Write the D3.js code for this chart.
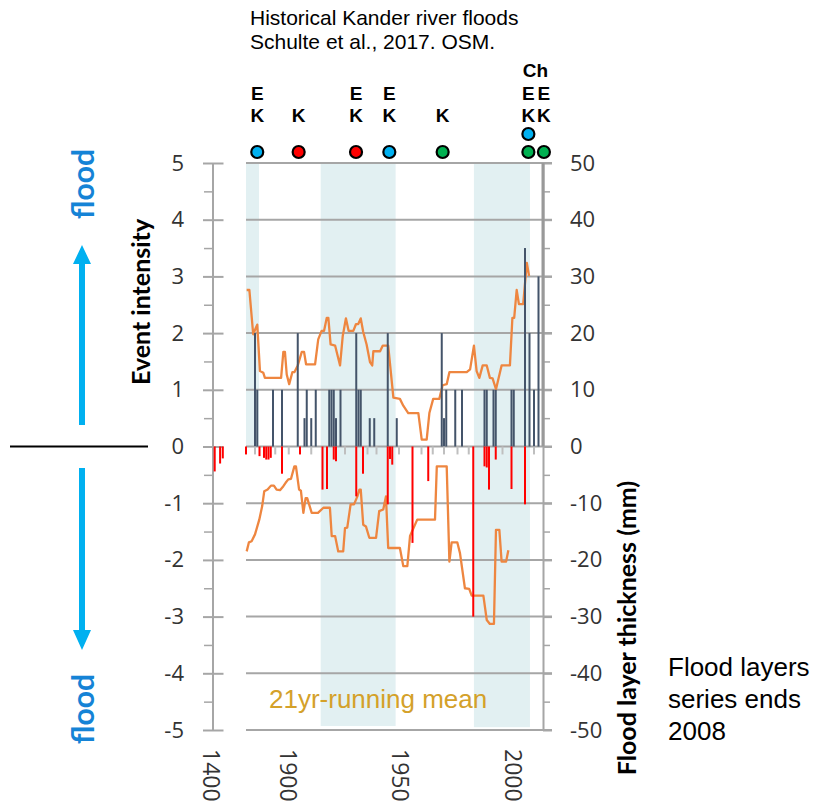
<!DOCTYPE html>
<html><head><meta charset="utf-8">
<script src="https://cdn.jsdelivr.net/npm/d3@7"></script>
<style>body{margin:0;background:#fff}svg{display:block}</style>
</head><body>
<svg id="c" width="817" height="807"></svg>
<script>
// ---------------- DATA ----------------
// Event intensity (left axis) – historical flood events
const intensityYears  = [1885,1886,1893,1897,1904,1907,1908,1910,1912,1918,1919,1920,1921,1923,1930,1931,1932,1936,1938,1944,1948,1968,1969,1970,1974,1977,1987,1988,1991,1992,1999,2000,2005,2007,2009,2011];
const intensityValues = [2,1,1,1,2,0.5,1,0.5,1,1,1,1,0.5,1,2,1,1,0.5,0.5,2,0.5,2,0.5,1,1,1,1,1,1,1,1,1,3.5,2,1,3];

// Flood layer thickness (mm, right axis, drawn downwards)
const layerYears  = [1881,1887,1889,1890,1891,1892,1897,1905,1915,1917,1920,1921,1930,1933,1944,1945,1946,1955,1962,1982,1987,1988,1989,1992,1999,2005];
const layerValues = [-1.4,-1.7,-2.0,-2.3,-2.3,-2.0,-4.8,-1.4,-7.6,-7.5,-2.3,-2.6,-8.8,-4.8,-10.2,-2.2,-3.2,-17.0,-6.1,-30,-3.5,-3.7,-7.6,-2.3,-7.5,-10.2];
// thin layers (grey)
const thinYears  = [1885,1894,1900,1910,1925,1935,1939,1949,1959,1964,1969,1975,1980,1995,2009];
const thinValues = [-1.4,-1.4,-1.4,-1.4,-1.4,-1.4,-1.4,-1.4,-1.4,-1.4,-1.4,-1.4,-1.4,-1.4,-1.4];
// early segment (around 1400)
const earlyYears  = [1401,1403,1404];
const earlyValues = [-4.4,-3.0,-2.1];

// 21yr running mean of event intensity
const meanUpYears  = [1881.3,1882.5,1884.2,1886.0,1887.2,1888.7,1889.4,1896.6,1897.6,1898.3,1899.1,1900.2,1901.6,1902.5,1904.0,1905.8,1906.8,1907.7,1911.7,1913.1,1914.6,1915.7,1916.9,1917.6,1918.6,1920.6,1922.8,1924.0,1925.4,1926.6,1928.7,1929.9,1930.9,1932.0,1933.1,1934.6,1936.1,1937.1,1937.6,1940.6,1941.8,1943.5,1944.2,1946.5,1949.4,1950.9,1953.1,1957.6,1959.1,1961.3,1962.5,1964.2,1966.9,1968.4,1970.2,1971.4,1979.1,1980.6,1982.3,1983.5,1984.7,1986.2,1988.0,1989.4,1990.6,1992.1,1994.6,1998.3,1999.4,2000.2,2001.3,2002.3,2004.2,2005.8,2006.8];
const meanUpValues = [2.76,2.76,1.98,2.15,1.33,1.30,1.21,1.21,1.67,1.67,1.27,1.10,1.31,1.31,1.43,1.67,1.67,1.45,1.45,1.89,2.04,2.04,2.27,2.27,1.80,1.78,1.43,1.95,2.26,2.04,2.04,2.16,2.16,2.26,2.02,1.80,1.49,1.43,1.68,1.68,1.78,1.78,1.78,0.86,0.84,0.72,0.59,0.59,0.12,0.12,0.59,0.84,0.84,1.08,1.10,1.31,1.31,1.36,1.78,1.33,1.21,1.43,1.43,1.21,1.20,1.01,1.43,1.43,2.27,2.27,2.76,2.51,2.51,3.24,3.01];

// 21yr running mean of flood layer thickness (mm)
const meanDownYears  = [1881.3,1882.3,1883.5,1885.0,1886.9,1888.2,1889.1,1890.6,1892.1,1893.4,1894.6,1896.1,1897.6,1898.6,1899.8,1901.0,1902.5,1903.2,1904.6,1905.4,1906.5,1907.5,1908.2,1910.2,1913.0,1915.4,1918.3,1919.1,1920.6,1922.0,1924.2,1925.0,1926.0,1927.5,1929.0,1930.5,1931.4,1932.0,1933.1,1934.3,1935.8,1938.8,1940.2,1942.0,1943.2,1944.2,1949.4,1950.9,1952.7,1953.9,1957.1,1965.0,1965.8,1970.2,1971.4,1972.4,1974.9,1976.1,1978.3,1980.2,1981.3,1986.5,1988.0,1989.4,1991.2,1992.1,1993.6,1994.6,1996.6,1997.6];
const meanDownValues = [-18.5,-16.9,-16.7,-15.5,-12.9,-10.5,-7.9,-7.6,-6.9,-6.9,-7.6,-7.7,-7.0,-6.4,-5.8,-5.7,-3.5,-3.5,-7.6,-7.8,-11.7,-9.1,-9.1,-11.7,-11.7,-10.8,-10.8,-15.8,-15.8,-18.5,-18.5,-14.4,-14.3,-10.2,-10.2,-8.8,-7.6,-7.6,-13.8,-14.1,-16.1,-16.1,-11.4,-11.1,-8.8,-17.9,-17.9,-21.1,-21.1,-15.8,-12.9,-12.9,-3.5,-3.5,-20.3,-16.9,-16.9,-18.8,-25.0,-25.1,-26.3,-26.3,-30.6,-31.3,-31.3,-14.7,-14.7,-20.3,-20.3,-18.3];

// shaded periods
const bandStart = [1881, 1914.2, 1982.3];
const bandEnd   = [1886.8, 1947.5, 2007.2];
const bandLow   = [0, -4.93, -4.95];

// event markers on top
const dotYears  = [1886, 1904.4, 1929.9, 1944.7, 1968.4, 2006.5, 2006.5, 2013.4];
const dotRows   = [0, 0, 0, 0, 0, 0, 1, 0];
const dotSource = ["A", "B", "B", "A", "C", "C", "A", "C"];
const labelTexts = ["E","K","K","E","K","E","K","K","Ch","E","K","E","K"];
const labelYears = [1886,1886,1904.4,1929.9,1929.9,1944.7,1944.7,1968.4,2009.6,2006.5,2006.5,2013.4,2013.4];
const labelRows  = [1,0,0,1,0,1,0,0,2,1,0,1,0];

// axis ticks
const leftTicks  = [-5,-4,-3,-2,-1,0,1,2,3,4,5];
const rightTicks = [-50,-40,-30,-20,-10,0,10,20,30,40,50];
const xTickMain  = [1900, 1950, 2000];
const xTickEarly = [1400];

// ---------------- DRAW ----------------
const svg = d3.select("#c");
const GRID = "#a6a6a6";
const xMain  = d3.scaleLinear().domain([1881, 2013]).range([246, 543]);
const xEarly = d3.scaleLinear().domain([1400, 1405]).range([212, 225.5]);
const yL = d3.scaleLinear().domain([-5, 5]).range([730, 163]);
const yR = d3.scaleLinear().domain([-50, 50]).range([730, 163]);
const srcColor = {A: "#00b0f0", B: "#ff0000", C: "#00b050"};

svg.append("rect").attr("width", 817).attr("height", 807).attr("fill", "#fff");

// bands
svg.append("g").selectAll("rect").data(d3.range(bandStart.length)).join("rect")
  .attr("x", i => xMain(bandStart[i]))
  .attr("width", i => xMain(bandEnd[i]) - xMain(bandStart[i]))
  .attr("y", yL(5))
  .attr("height", i => yL(bandLow[i]) - yL(5))
  .attr("fill", "#e2f0f2");

// gridlines (also act as right-axis major ticks)
svg.append("g").selectAll("line").data(leftTicks).join("line")
  .attr("x1", 246).attr("x2", 552)
  .attr("y1", d => yL(d)).attr("y2", d => yL(d))
  .attr("stroke", GRID).attr("stroke-width", 2);

// left axis
const gL = svg.append("g").attr("transform", "translate(212.5,0)")
  .call(d3.axisLeft(yL).tickValues(leftTicks).tickSizeInner(9.5).tickSizeOuter(0).tickPadding(19).tickFormat(d => String(d)));
gL.select(".domain").attr("stroke", GRID).attr("stroke-width", 2);
gL.selectAll(".tick line").attr("stroke", GRID).attr("stroke-width", 2).attr("x1", 11);
gL.selectAll(".tick text").attr("font-family", "Open Sans").attr("font-size", 22).attr("fill", "#333");
const gLm = svg.append("g").attr("transform", "translate(212.5,0)")
  .call(d3.axisLeft(yL).tickValues(d3.range(-4.5, 5, 1)).tickSize(8.5).tickFormat(""));
gLm.select(".domain").remove();
gLm.selectAll(".tick line").attr("stroke", GRID).attr("stroke-width", 1.5);

// right axis
const gR = svg.append("g").attr("transform", "translate(543,0)")
  .call(d3.axisRight(yR).tickValues(rightTicks).tickSizeInner(9).tickSizeOuter(0).tickPadding(18).tickFormat(d => String(d)));
gR.select(".domain").attr("stroke", GRID).attr("stroke-width", 2);
gR.selectAll(".tick line").attr("stroke", GRID).attr("stroke-width", 2);
gR.selectAll(".tick text").attr("font-family", "Open Sans").attr("font-size", 22).attr("fill", "#333");
const gRm = svg.append("g").attr("transform", "translate(543,0)")
  .call(d3.axisRight(yR).tickValues(d3.range(-45, 50, 10)).tickSize(7).tickFormat(""));
gRm.select(".domain").remove();
gRm.selectAll(".tick line").attr("stroke", GRID).attr("stroke-width", 1.5);
svg.append("line").attr("x1", 543).attr("x2", 543).attr("y1", yR(50)).attr("y2", yR(0))
  .attr("stroke", "#999").attr("stroke-width", 3);

// running means
const lineUp = d3.line().x(d => xMain(d[0])).y(d => yL(d[1]));
const lineDown = d3.line().x(d => xMain(d[0])).y(d => yR(d[1]));
svg.append("path").datum(d3.zip(meanUpYears, meanUpValues)).attr("d", lineUp)
  .attr("fill", "none").attr("stroke", "#ee8640").attr("stroke-width", 2.3).attr("stroke-linejoin", "round");
svg.append("path").datum(d3.zip(meanDownYears, meanDownValues)).attr("d", lineDown)
  .attr("fill", "none").attr("stroke", "#ee8640").attr("stroke-width", 2.3).attr("stroke-linejoin", "round");

// bars
const BW = 2;
svg.append("g").selectAll("rect").data(d3.zip(intensityYears, intensityValues)).join("rect")
  .attr("x", d => xMain(d[0]) - BW / 2).attr("width", BW)
  .attr("y", d => yL(d[1])).attr("height", d => yL(0) - yL(d[1]))
  .attr("fill", "#44546a");
svg.append("g").selectAll("rect").data(d3.zip(thinYears, thinValues)).join("rect")
  .attr("x", d => xMain(d[0]) - BW / 2).attr("width", BW)
  .attr("y", yR(0)).attr("height", d => yR(d[1]) - yR(0))
  .attr("fill", "#bfbfbf");
svg.append("g").selectAll("rect").data(d3.zip(layerYears, layerValues)).join("rect")
  .attr("x", d => xMain(d[0]) - BW / 2).attr("width", BW)
  .attr("y", yR(0)).attr("height", d => yR(d[1]) - yR(0))
  .attr("fill", "#ff0000");
svg.append("g").selectAll("rect").data(d3.zip(earlyYears, earlyValues)).join("rect")
  .attr("x", d => xEarly(d[0]) - BW / 2).attr("width", BW)
  .attr("y", yR(0)).attr("height", d => yR(d[1]) - yR(0))
  .attr("fill", "#ff0000");

// x tick labels (rotated)
const xLab = xTickEarly.map(y => [y, xEarly(y)]).concat(xTickMain.map(y => [y, xMain(y)]));
svg.append("g").selectAll("text").data(xLab).join("text")
  .attr("transform", d => `translate(${d[1]},749) rotate(90)`)
  .attr("dominant-baseline", "central")
  .attr("font-family", "Open Sans").attr("font-size", 23).attr("fill", "#333")
  .text(d => d[0]);

// event dots and labels
const rowY = [152, 134];
svg.append("g").selectAll("circle").data(d3.range(dotYears.length)).join("circle")
  .attr("cx", i => xMain(dotYears[i])).attr("cy", i => rowY[dotRows[i]])
  .attr("r", 6).attr("fill", i => srcColor[dotSource[i]])
  .attr("stroke", "#000").attr("stroke-width", 2.2);
const labY = [115, 93, 70];
svg.append("g").selectAll("text").data(d3.range(labelTexts.length)).join("text")
  .attr("x", i => xMain(labelYears[i])).attr("y", i => labY[labelRows[i]])
  .attr("text-anchor", "middle").attr("dominant-baseline", "central")
  .attr("font-family", "Liberation Sans, Arial, sans-serif").attr("font-weight", "bold")
  .attr("font-size", 19).attr("fill", "#000")
  .text(i => labelTexts[i]);

// title
svg.append("text").attr("x", 250).attr("y", 25)
  .attr("font-family", "Liberation Sans, Arial, sans-serif").attr("font-size", 21).attr("fill", "#000")
  .text("Historical Kander river floods");
svg.append("text").attr("x", 250).attr("y", 49)
  .attr("font-family", "Liberation Sans, Arial, sans-serif").attr("font-size", 21).attr("fill", "#000")
  .text("Schulte et al., 2017. OSM.");

// running mean label
svg.append("text").attr("x", 269).attr("y", 708)
  .attr("font-family", "Liberation Sans, Arial, sans-serif").attr("font-size", 26).attr("fill", "#d4a12a")
  .text("21yr-running mean");

// axis titles
svg.append("text").attr("transform", "translate(140,302) rotate(-90)")
  .attr("text-anchor", "middle").attr("dominant-baseline", "central")
  .attr("font-family", "Lato").attr("font-weight", "bold").attr("font-size", 25).attr("fill", "#000")
  .text("Event intensity");
svg.append("text").attr("transform", "translate(626,628) rotate(-90)")
  .attr("text-anchor", "middle").attr("dominant-baseline", "central")
  .attr("font-family", "Lato").attr("font-weight", "bold").attr("font-size", 25).attr("fill", "#000")
  .text("Flood layer thickness (mm)");

// right note
["Flood layers", "series ends", "2008"].forEach((t, i) => {
  svg.append("text").attr("x", 668).attr("y", 676 + i * 32)
    .attr("font-family", "Liberation Sans, Arial, sans-serif").attr("font-size", 26).attr("fill", "#000")
    .text(t);
});

// left decorations: divider and arrows
svg.append("line").attr("x1", 10).attr("x2", 148).attr("y1", yL(0)).attr("y2", yL(0))
  .attr("stroke", "#000").attr("stroke-width", 2);
const AC = "#00b0f0";
svg.append("path").attr("d", "M79,425 L79,264 L73,264 L82,245 L91,264 L85,264 L85,425 Z").attr("fill", AC);
svg.append("path").attr("d", "M79,468 L79,630 L73,630 L82,650 L91,630 L85,630 L85,468 Z").attr("fill", AC);
[[82,184],[82,709]].forEach(p => {
  svg.append("text").attr("transform", `translate(${p[0]},${p[1]}) rotate(-90)`)
    .attr("text-anchor", "middle").attr("dominant-baseline", "central")
    .attr("font-family", "Lato").attr("font-weight", "bold").attr("font-size", 30).attr("fill", "#1583d6")
    .text("flood");
});
</script>
</body></html>
